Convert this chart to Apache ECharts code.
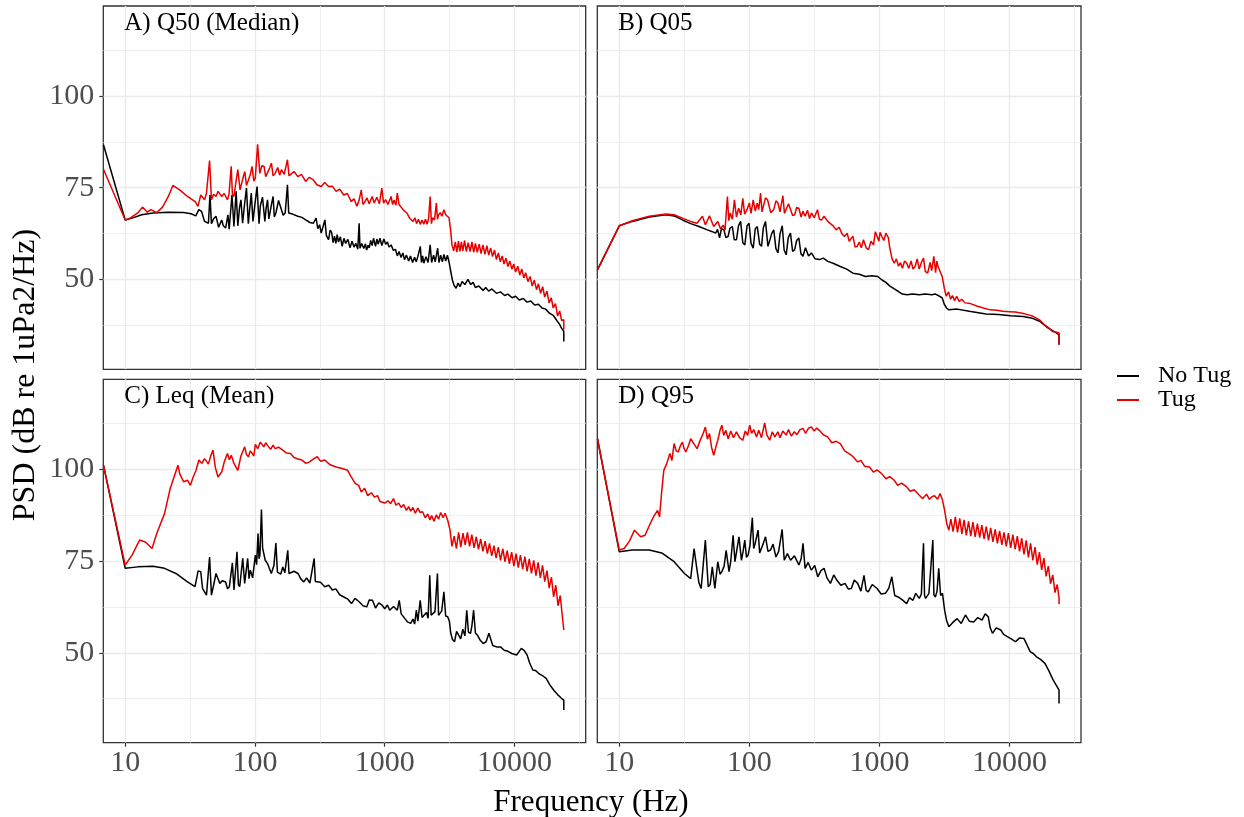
<!DOCTYPE html>
<html><head><meta charset="utf-8">
<script src="https://cdn.jsdelivr.net/npm/echarts@6/dist/echarts.min.js"></script>
<style>html,body{margin:0;padding:0;background:#fff}#c{width:1244px;height:817px}</style>
</head><body><div id="c"></div>
<script>
const panelTitles = ['A) Q50 (Median)', 'B) Q05', 'C) Leq (Mean)', 'D) Q95'];
const seriesNames = ['No Tug', 'Tug'];
const xTickLabels = [10, 100, 1000, 10000];
const xMinorBreaks = [31.62, 316.2, 3162, 31623];
const yTickLabels = [50, 75, 100];
const yMinorBreaks = [37.5, 62.5, 87.5, 112.5];
const xRange = [6.78, 35400];
const yRange = [25.5, 124.5];

const q50NoTug = [[6.8,86.7],[10,66.2],[11.3,66.7],[13.4,67.6],[16.4,68.1],[21.5,68.3],[28.2,68.2],[32.2,67.9],[35,67.3],[36.9,69.0],[38.8,68.5],[40.9,65.8],[43.8,65.3],[45,73.0],[46.2,65.2],[48,66.5],[50.1,67.2],[52.5,64.2],[55.4,66.2],[57,64.6],[59.4,64.0],[61.9,67.6],[63.3,63.7],[66.5,73.0],[68.9,64.4],[71.6,74.0],[73.8,64.6],[76,69.5],[78,71.7],[80.3,65.3],[83,70.2],[86,74.9],[88.9,65.2],[91,69.0],[93.7,73.5],[96.5,65.8],[100,70.5],[103.8,75.3],[107.5,65.2],[110,70.0],[114.3,72.4],[119.2,65.8],[122,69.5],[125,71.7],[128,66.5],[132,66.2],[135,71.0],[138,72.6],[141,67.0],[145,68.1],[152,71.5],[160,69.0],[165,67.5],[171,68.1],[178,75.8],[182,68.1],[195,67.8],[214,67.2],[230,66.9],[246,66.2],[265,65.5],[282,65.3],[296,66.7],[305,63.8],[315,64.9],[324,62.6],[335,64.4],[346,66.2],[355,62.0],[369,60.8],[380,63.4],[390,62.8],[400,60.0],[410,61.8],[420,59.8],[430,62.2],[440,60.2],[455,61.6],[470,59.0],[485,61.2],[500,59.8],[520,60.9],[540,58.6],[560,60.4],[580,58.8],[600,59.8],[620,58.2],[635,65.3],[645,58.5],[665,59.8],[690,58.4],[710,59.7],[725,58.0],[745,59.3],[760,58.6],[780,60.6],[800,59.2],[820,61.2],[850,59.0],[870,61.0],[890,59.6],[920,61.2],[950,59.2],[985,61.0],[1018,59.6],[1050,60.2],[1080,58.8],[1120,59.4],[1166,57.9],[1210,58.2],[1250,56.4],[1290,57.6],[1334,56.0],[1380,57.2],[1420,55.4],[1470,56.6],[1530,55.0],[1580,56.4],[1640,54.6],[1700,56.0],[1750,54.8],[1800,56.2],[1880,59.0],[1920,54.6],[1960,56.4],[2000,54.4],[2080,56.2],[2160,54.6],[2240,59.4],[2300,54.6],[2380,56.6],[2450,54.8],[2560,58.5],[2620,54.6],[2700,56.6],[2780,54.8],[2860,56.8],[2950,55.0],[3040,56.6],[3130,54.8],[3220,54.4],[3320,49.9],[3420,48.4],[3550,47.6],[3680,49.0],[3800,48.0],[3950,49.4],[4150,48.6],[4380,50.0],[4600,48.6],[4800,49.2],[5000,47.8],[5300,48.2],[5730,47.0],[6000,47.8],[6330,46.8],[6700,47.4],[7260,46.2],[7800,46.6],[8400,45.6],[8900,46.0],[9600,45.0],[10200,45.4],[10900,44.4],[11700,44.8],[12500,43.8],[13350,44.1],[14300,43.0],[15300,43.2],[16300,42.2],[17400,41.9],[18600,40.8],[20000,40.1],[21200,38.8],[22200,37.8],[23000,36.8],[24000,35.8],[24000,33.1]];
const q50Tug = [[6.8,80.0],[10,66.2],[10.9,66.7],[12.5,68.1],[13.6,69.7],[14.8,68.3],[15.8,69.0],[17.5,68.2],[19.4,69.7],[21.5,72.6],[23.3,75.6],[26.3,74.4],[30.2,72.6],[34.6,71.2],[36.4,69.9],[38.2,73.0],[40.9,71.7],[42.3,73.5],[44.7,82.4],[46.2,71.7],[48,73.2],[50.1,72.6],[52,74.0],[55.4,72.6],[58,73.4],[61.3,71.7],[63,73.0],[65.6,80.8],[67,73.2],[68.9,72.6],[71,76.0],[73.8,79.9],[76.8,74.4],[80,77.0],[83.5,79.4],[86,75.6],[88.9,75.3],[92,78.5],[95,80.8],[98,76.8],[100.6,77.6],[104.8,86.8],[109,78.9],[113,81.0],[117.5,80.8],[121,78.0],[125,78.5],[130,80.4],[134,81.7],[138,78.2],[143,78.9],[150,80.5],[155,78.4],[160,79.9],[168,78.6],[178,82.6],[183,78.2],[188,78.5],[200,79.4],[214,78.0],[228,78.6],[246,76.7],[262,77.8],[282,77.1],[300,75.8],[324,75.3],[345,76.4],[369,75.3],[395,75.4],[422,74.0],[450,74.6],[483,73.0],[515,73.4],[553,71.2],[580,72.0],[610,69.9],[635,71.6],[660,74.4],[680,70.4],[700,71.0],[730,72.2],[760,70.6],[800,72.6],[830,70.8],[870,72.4],[910,70.6],[950,74.9],[980,70.8],[1018,71.7],[1060,70.4],[1120,72.6],[1150,70.4],[1180,71.6],[1220,70.2],[1250,73.5],[1290,70.4],[1334,70.8],[1400,68.8],[1480,68.1],[1560,66.6],[1655,65.8],[1710,66.8],[1760,65.2],[1820,66.4],[1880,65.0],[1940,66.2],[2000,65.0],[2060,66.4],[2120,65.0],[2180,66.6],[2240,72.6],[2290,65.2],[2340,66.8],[2420,66.2],[2500,70.8],[2550,66.4],[2600,67.6],[2680,68.2],[2760,67.2],[2860,69.0],[2950,67.6],[3040,68.0],[3130,66.8],[3220,63.5],[3300,59.4],[3400,57.8],[3500,60.2],[3600,57.4],[3700,60.4],[3800,57.6],[3900,60.2],[4000,57.8],[4130,60.6],[4250,57.6],[4400,60.0],[4550,57.6],[4700,60.2],[4850,57.4],[5000,59.8],[5170,57.4],[5350,59.6],[5530,57.0],[5720,59.4],[5920,56.8],[6130,59.2],[6330,56.6],[6550,58.6],[6780,56.2],[7020,58.0],[7260,55.4],[7520,57.2],[7780,54.8],[8050,56.4],[8300,54.2],[8600,55.8],[8900,53.5],[9200,55.0],[9550,52.8],[9880,54.2],[10200,52.0],[10600,53.6],[11000,51.2],[11400,52.8],[11800,50.4],[12200,51.8],[12700,49.4],[13200,50.8],[13700,48.2],[14200,49.8],[14800,47.2],[15300,48.8],[15900,46.2],[16500,48.0],[17100,45.2],[17800,46.8],[18500,43.6],[19200,45.0],[19900,42.2],[20700,43.4],[21500,40.0],[22300,41.4],[23100,38.8],[24000,39.0],[24000,36.3]];

const q05NoTug = [[6.8,52.6],[10,64.6],[12.6,65.8],[17,67.0],[22.8,67.6],[26.4,67.3],[30.6,66.2],[35.4,65.2],[41,64.4],[47.5,63.5],[52,63.0],[55,62.6],[57,63.6],[59,61.3],[61,63.8],[63.8,63.5],[66,61.4],[68.6,61.7],[71,64.0],[74,64.4],[76.5,60.8],[79.6,60.8],[82.5,64.6],[85.7,65.8],[89,60.0],[92.3,59.4],[96,64.6],[99.5,65.3],[103,59.8],[107,58.5],[111,63.8],[115,64.4],[120,59.6],[124,59.0],[128,64.0],[133,65.8],[139,59.0],[144,58.5],[149,62.6],[154,63.5],[160,58.4],[166,57.2],[172,62.4],[179,64.6],[185,58.0],[192,56.7],[199,61.4],[207,62.6],[215,57.6],[223,58.1],[231,60.6],[240,61.3],[249,57.0],[258,56.3],[270,58.6],[285,56.4],[300,57.2],[320,55.6],[346,55.4],[370,55.8],[401,54.9],[440,54.4],[500,53.5],[560,52.8],[625,51.7],[700,51.4],[780,50.8],[870,51.0],[970,50.8],[1040,49.9],[1120,49.2],[1210,48.1],[1300,47.4],[1400,46.7],[1500,46.0],[1630,45.8],[1800,46.0],[2020,45.8],[2250,46.0],[2520,45.8],[2700,46.0],[2900,45.4],[3030,45.0],[3160,43.1],[3280,42.2],[3410,41.7],[3960,41.9],[4900,41.3],[6600,40.6],[8200,40.4],[10200,40.1],[12700,39.9],[14700,39.5],[17000,38.6],[19700,36.8],[22900,35.4],[24000,34.9],[24000,32.2]];
const q05Tug = [[6.8,52.6],[10,64.6],[12.6,66.0],[17,67.2],[22.8,67.8],[26.4,67.6],[30.6,66.7],[35.4,65.8],[39.6,65.3],[43.6,67.2],[45.9,64.9],[49.4,67.3],[53.2,64.4],[57.2,65.8],[60,63.8],[62.9,64.8],[65,63.4],[67.8,72.6],[69.5,66.0],[71.3,68.1],[74,66.4],[76.8,71.7],[79.5,67.0],[82.7,69.4],[86,67.6],[89,72.1],[92,67.8],[95.9,69.0],[100,70.8],[103,68.0],[107,71.7],[111,68.6],[115,70.8],[118,69.0],[122,73.5],[125,68.4],[128,69.9],[133,72.2],[138,71.7],[146,68.2],[154,69.0],[160,71.4],[166,70.8],[172,68.4],[181,72.8],[186,68.0],[192,68.1],[200,70.6],[207,70.3],[215,67.4],[223,67.6],[231,69.6],[240,69.4],[250,67.0],[258,68.6],[268,67.2],[280,68.8],[290,66.6],[300,68.1],[315,66.8],[334,69.0],[345,66.4],[359,66.2],[375,67.2],[401,65.8],[420,65.2],[440,64.6],[465,63.5],[490,64.2],[515,62.4],[539,61.7],[565,62.6],[585,60.4],[603,59.9],[625,61.8],[650,58.8],[674,59.0],[700,60.2],[725,58.6],[753,60.8],[790,58.6],[825,58.1],[860,60.4],[900,59.4],[930,63.0],[958,63.5],[990,60.4],[1010,62.8],[1043,61.7],[1080,60.6],[1120,62.6],[1170,61.4],[1200,58.6],[1250,55.6],[1298,54.4],[1350,55.6],[1400,53.6],[1450,54.6],[1500,53.0],[1560,55.0],[1621,54.4],[1680,53.0],[1750,55.0],[1810,52.8],[1880,53.5],[1950,55.6],[2020,52.8],[2100,54.6],[2180,55.8],[2250,52.2],[2346,51.7],[2450,54.6],[2520,52.4],[2618,56.3],[2700,51.8],[2760,55.0],[2818,53.5],[2920,52.2],[3032,50.8],[3150,47.6],[3264,45.4],[3400,46.6],[3520,44.6],[3640,45.6],[3780,44.2],[3920,45.4],[4100,44.0],[4300,44.6],[4540,43.6],[5000,43.4],[5670,42.7],[6300,42.2],[7080,41.7],[8000,41.6],[8850,41.3],[10000,41.2],[11050,41.1],[12500,40.8],[13800,40.4],[15000,40.0],[15950,39.5],[17200,38.8],[18460,37.7],[20000,36.8],[21350,35.8],[23000,35.6],[24000,35.4],[24000,32.2]];

const leqNoTug = [[6.8,101.1],[10,73.0],[12.5,73.4],[16.4,73.6],[20.1,73.0],[24.6,71.6],[30.2,69.3],[34.5,68.0],[36.5,72.3],[38.2,72.1],[39.5,67.5],[42.3,65.7],[44.7,76.1],[46.2,65.7],[48,68.4],[50.1,71.6],[53.6,68.9],[56,69.6],[59.4,69.3],[61.5,67.4],[63.5,68.0],[67,74.5],[68.9,67.1],[72.7,77.5],[74.5,68.6],[76.3,68.0],[80.5,75.7],[83.3,68.9],[87.9,75.7],[90,70.2],[92.2,72.5],[96,70.4],[100.7,76.6],[103,74.0],[105.6,82.5],[107.5,75.6],[109.2,76.6],[112.2,89.0],[114.5,78.6],[116.9,78.9],[120,75.2],[125,74.3],[129,73.0],[133.7,71.6],[140,73.8],[145,79.9],[149,72.0],[153,72.5],[158,71.4],[164,73.4],[170,71.8],[179,77.9],[183,71.6],[188,71.1],[200,72.2],[215,71.6],[225,70.2],[238,69.3],[250,70.4],[265,69.0],[286,75.7],[292,69.4],[298,68.9],[320,69.2],[345,68.0],[370,68.4],[395,67.1],[420,67.4],[450,65.8],[484,65.2],[520,64.6],[555,63.4],[590,64.8],[635,63.9],[680,62.8],[727,62.5],[760,64.4],[805,64.3],[850,62.2],[900,63.6],[953,63.0],[1000,62.0],[1050,63.0],[1092,61.6],[1170,62.6],[1250,61.6],[1294,64.3],[1340,60.6],[1432,59.3],[1500,58.4],[1585,58.0],[1650,59.2],[1700,57.8],[1754,61.6],[1800,58.6],[1878,64.3],[1940,59.6],[2009,59.8],[2100,61.0],[2160,59.4],[2224,71.1],[2280,60.2],[2333,59.8],[2440,61.2],[2549,71.6],[2600,60.2],[2636,59.8],[2750,61.4],[2859,66.6],[2950,60.0],[3058,59.8],[3150,58.6],[3228,55.3],[3330,53.6],[3453,53.0],[3580,55.8],[3697,55.3],[3850,53.8],[4000,56.4],[4150,54.6],[4289,61.6],[4420,55.6],[4590,55.3],[4700,57.4],[4844,61.6],[5000,55.4],[5185,54.8],[5450,53.4],[5740,52.5],[6050,53.0],[6353,55.3],[6800,52.0],[7275,51.6],[7800,51.6],[8334,50.7],[8900,50.4],[9537,49.8],[10400,49.4],[11300,51.2],[11900,50.6],[12510,49.4],[13100,47.2],[13840,45.3],[14500,45.2],[15320,44.4],[16400,43.8],[17540,43.0],[18800,41.2],[20090,39.8],[21500,38.6],[23010,37.6],[24000,37.1],[24000,34.4]];
const leqTug = [[6.8,101.1],[10,73.9],[11.3,76.6],[12.9,80.7],[14.3,80.2],[16.1,78.4],[17.5,82.5],[20.1,87.9],[22.2,94.7],[23.8,97.9],[25.5,101.1],[26.3,98.8],[28.2,96.6],[30.2,97.0],[31.8,95.6],[33.4,97.9],[35,99.5],[37,102.5],[39,101.6],[40.9,102.9],[43.8,101.4],[45.5,103.5],[47.5,105.2],[49.5,100.5],[51.9,97.9],[55.5,99.3],[58,102.0],[61.4,104.3],[63.5,102.6],[65.7,103.8],[69,101.5],[73.8,99.7],[78,103.6],[83.3,106.1],[86,104.0],[89.1,103.4],[92,105.0],[95.3,104.3],[98,103.6],[100.7,106.8],[105,105.6],[110,107.4],[116.9,106.1],[121,107.2],[125,106.5],[132,105.4],[138,106.6],[143,105.6],[152,106.0],[164,105.2],[175,104.4],[188,104.3],[200,103.2],[215,102.8],[230,102.5],[247,101.6],[264,102.0],[283,102.8],[302,103.4],[320,102.2],[345,102.5],[380,101.2],[423,100.6],[470,100.2],[518,99.7],[550,98.0],[594,96.1],[630,95.6],[660,93.8],[700,94.8],[740,92.8],[790,93.6],[833,92.4],[880,92.8],[920,91.2],[953,91.6],[1000,90.8],[1060,91.4],[1110,90.6],[1169,92.0],[1220,90.2],[1280,90.8],[1338,89.6],[1400,90.4],[1470,88.8],[1530,89.8],[1585,88.6],[1650,89.6],[1720,88.0],[1800,89.4],[1878,88.2],[1960,88.4],[2050,86.8],[2150,87.8],[2230,86.2],[2300,87.4],[2400,85.8],[2500,87.6],[2600,86.4],[2700,88.2],[2818,86.8],[2920,88.0],[3058,86.1],[3180,83.6],[3300,79.0],[3430,81.8],[3570,78.4],[3710,82.8],[3860,78.8],[4010,82.6],[4170,79.4],[4340,82.8],[4510,79.0],[4690,82.2],[4880,78.6],[5080,81.6],[5280,78.2],[5490,81.0],[5710,77.6],[5940,80.4],[6180,77.0],[6420,79.8],[6680,76.4],[6950,79.2],[7220,75.8],[7510,78.8],[7810,75.2],[8130,78.4],[8450,74.8],[8790,77.8],[9140,74.2],[9510,77.4],[9890,73.6],[10290,77.0],[10700,73.2],[11120,76.6],[11570,72.8],[12030,76.2],[12510,72.2],[13010,75.6],[13530,71.6],[14070,75.2],[14640,71.0],[15220,74.6],[15830,70.4],[16460,73.8],[17120,69.4],[17810,72.4],[18520,67.6],[19260,70.6],[20030,65.2],[20830,68.4],[21660,62.8],[22530,65.6],[23430,59.6],[24000,59.8],[24000,56.2]];

const q95NoTug = [[6.8,108.3],[10,77.5],[12.6,78.0],[17,78.0],[21.2,77.2],[26.4,74.8],[31.7,71.6],[35.4,70.2],[37.6,78.4],[39.6,72.5],[41,69.0],[42.6,67.5],[45.9,80.7],[48.3,68.0],[50,68.6],[51.9,73.4],[54.3,67.5],[57.2,74.8],[59.5,71.4],[61.5,72.1],[64,73.6],[66.3,77.9],[69.8,72.1],[72,75.0],[75,82.0],[77.5,74.8],[79.6,74.3],[83.2,81.6],[86.9,75.2],[89.5,77.6],[92.2,80.7],[95,76.0],[97.8,76.6],[101,79.2],[105.4,86.8],[108,78.4],[110.9,79.8],[116.6,83.4],[120,77.2],[123.6,77.5],[128,79.8],[133.1,81.6],[139,77.6],[145.5,78.0],[152,79.6],[160.1,76.1],[168,77.6],[178.6,83.6],[185.4,75.2],[196,77.0],[207.4,75.2],[222,76.4],[240.2,73.9],[250,75.6],[258.5,79.8],[268.1,73.0],[283,74.6],[299.9,72.5],[318,73.8],[335.5,70.7],[355,72.4],[375.3,73.0],[395,70.4],[419.8,68.9],[445,71.2],[469.6,69.8],[505,68.4],[543.4,68.9],[575,67.4],[607.9,67.5],[640,69.8],[680,68.9],[720,66.8],[760.7,71.1],[790,67.0],[820,66.6],[880,68.6],[958,67.5],[1030,66.0],[1112,66.2],[1180,67.6],[1244,70.7],[1310,65.6],[1392,65.2],[1500,64.4],[1617,63.4],[1700,65.0],[1809,64.3],[1900,66.2],[2023,64.8],[2100,66.0],[2180,79.8],[2220,65.6],[2263,64.8],[2400,66.2],[2571,80.7],[2620,65.8],[2690,65.2],[2770,66.8],[2855,73.0],[2950,65.6],[3050,66.2],[3168,61.6],[3280,58.8],[3413,57.1],[3650,58.2],[3953,59.3],[4250,58.0],[4577,60.3],[4900,58.6],[5300,58.4],[5700,59.6],[6136,58.9],[6500,60.6],[6861,59.8],[7100,56.8],[7390,55.3],[7900,56.8],[8560,56.2],[9000,55.0],[9600,54.4],[10300,53.8],[11100,53.0],[11900,54.0],[12880,53.9],[13600,52.2],[14400,50.3],[15200,49.8],[16100,48.9],[17300,48.2],[18700,47.1],[20100,45.0],[21600,42.6],[23000,41.0],[24000,39.8],[24000,36.2]];
const q95Tug = [[6.8,108.3],[10,78.0],[10.9,78.4],[12,80.5],[13.1,83.4],[14.6,81.6],[15.8,82.0],[17,84.6],[18.3,87.0],[19.7,88.8],[20.4,87.0],[21.2,94.0],[22,99.7],[23.2,101.6],[24.5,104.3],[25.4,102.4],[26.4,107.0],[27.4,105.0],[28.4,104.7],[29.5,106.4],[30.6,107.4],[31.5,105.6],[32.5,104.7],[34,106.4],[35.4,108.3],[37.4,107.0],[39.6,105.6],[42,108.0],[44,109.6],[45.9,111.5],[47.6,108.2],[49.4,109.7],[51.2,106.0],[53.2,103.8],[55.2,106.0],[57.2,107.9],[59.5,110.6],[61.5,112.0],[63.5,109.2],[66,110.6],[68.7,108.3],[72,110.4],[75.5,108.6],[79.6,110.2],[84,108.6],[89,107.9],[93,110.4],[97,109.2],[100.6,112.0],[104,109.8],[108,110.8],[113.5,108.8],[118,110.6],[124,108.6],[131.1,112.6],[136,109.4],[143.3,107.9],[150,110.2],[157,108.8],[165.6,110.2],[172,108.6],[181,110.4],[191.6,109.3],[200,110.8],[210,109.0],[221.5,110.2],[232,109.4],[245,110.8],[258.5,111.1],[270,109.8],[285,111.2],[299.9,111.5],[315,110.4],[330,111.2],[344.9,110.6],[370,109.4],[399.8,108.8],[430,107.2],[465,107.6],[500,107.0],[540,105.0],[579,104.3],[620,103.6],[680,102.0],[720,102.4],[770,100.8],[838,100.6],[900,99.2],[960,99.8],[1040,98.8],[1120,97.4],[1200,98.0],[1298,97.0],[1380,95.6],[1480,96.2],[1617,95.2],[1720,94.0],[1850,94.4],[2023,92.9],[2150,92.0],[2300,93.2],[2420,91.8],[2529,92.5],[2650,92.8],[2800,91.8],[2920,93.4],[3050,91.6],[3168,88.8],[3300,85.0],[3413,83.4],[3540,86.4],[3680,83.0],[3830,87.0],[3980,82.8],[4140,86.6],[4300,82.4],[4470,86.2],[4650,82.0],[4840,85.8],[5030,81.8],[5230,85.6],[5440,81.6],[5660,85.2],[5890,81.4],[6120,84.8],[6370,81.0],[6620,84.4],[6890,80.6],[7160,84.0],[7450,80.2],[7750,83.6],[8060,79.8],[8380,83.2],[8720,79.4],[9060,82.8],[9430,79.0],[9800,82.6],[10200,78.6],[10600,82.2],[11030,78.2],[11470,81.8],[11930,77.6],[12400,81.2],[12900,76.8],[13420,80.6],[13950,76.0],[14510,79.8],[15090,75.2],[15690,78.8],[16320,74.0],[16970,77.4],[17650,72.6],[18360,75.8],[19090,70.8],[19860,73.6],[20650,68.8],[21480,71.2],[22340,66.4],[23230,68.6],[24000,65.0],[24000,63.2]];

const panelData = [[q50NoTug, q50Tug], [q05NoTug, q05Tug], [leqNoTug, leqTug], [q95NoTug, q95Tug]];
const seriesColors = ['#000000', '#E60000'];

const FONT = '"Liberation Serif", "Times New Roman", serif';
const grids = [
  {left: 103.3, top: 6, width: 482.4, height: 363.3},
  {left: 597.3, top: 6, width: 483.7, height: 363.3},
  {left: 103.3, top: 379.3, width: 482.4, height: 363.4},
  {left: 597.3, top: 379.3, width: 483.7, height: 363.4}
];
const gridLine = '#EBEBEB';
const option = {animation: false, backgroundColor: '#ffffff', grid: [], xAxis: [], yAxis: [], series: [], graphic: []};
grids.forEach((g, i) => {
  option.grid.push(Object.assign({show: true, borderColor: '#333333', borderWidth: 1.3, backgroundColor: 'transparent', containLabel: false}, g));
  const showX = i >= 2, showY = i % 2 === 0;
  option.xAxis.push({
    gridIndex: i, type: 'log', logBase: 10, min: xRange[0], max: xRange[1],
    axisLine: {show: false},
    axisTick: {show: showX, length: 4, customValues: xTickLabels, lineStyle: {color: '#333333', width: 1.2}},
    axisLabel: {show: showX, customValues: xTickLabels, fontFamily: FONT, fontSize: 30, color: '#4D4D4D', margin: 5,
      formatter: v => String(Math.round(v))},
    splitLine: {show: true, lineStyle: {color: gridLine, width: 1.4}},
    minorTick: {show: false}, minorSplitLine: {show: false}
  });
  option.xAxis.push({
    gridIndex: i, type: 'log', logBase: 10, min: xRange[0], max: xRange[1],
    axisLine: {show: false}, axisTick: {show: false, customValues: xMinorBreaks},
    axisLabel: {show: false}, splitLine: {show: true, lineStyle: {color: gridLine, width: 0.8}}
  });
  option.yAxis.push({
    gridIndex: i, type: 'value', min: yRange[0], max: yRange[1],
    axisLine: {show: false},
    axisTick: {show: showY, length: 4, customValues: yTickLabels, lineStyle: {color: '#333333', width: 1.2}},
    axisLabel: {show: showY, customValues: yTickLabels, fontFamily: FONT, fontSize: 30, color: '#4D4D4D', margin: 9},
    splitLine: {show: true, lineStyle: {color: gridLine, width: 1.4}}
  });
  option.yAxis.push({
    gridIndex: i, type: 'value', min: yRange[0], max: yRange[1],
    axisLine: {show: false}, axisTick: {show: false, customValues: yMinorBreaks},
    axisLabel: {show: false}, splitLine: {show: true, lineStyle: {color: gridLine, width: 0.8}}
  });
  panelData[i].forEach((d, k) => {
    option.series.push({
      name: seriesNames[k], type: 'line', xAxisIndex: 2 * i, yAxisIndex: 2 * i,
      data: d, showSymbol: false, symbol: 'none', clip: true,
      color: seriesColors[k], lineStyle: {color: seriesColors[k], width: 1.5}, z: 3 + k
    });
  });
  option.graphic.push({type: 'text', x: g.left + 21, y: g.top + 17.5, z: 10,
    style: {text: panelTitles[i], font: '25px ' + FONT, fill: '#000', align: 'left', verticalAlign: 'middle'}});
});
option.graphic.push({type: 'text', x: 591, y: 803, style: {text: 'Frequency (Hz)', font: '31px ' + FONT, fill: '#000', align: 'center', verticalAlign: 'middle'}});
option.graphic.push({type: 'text', x: 26, y: 375, rotation: Math.PI / 2, style: {text: 'PSD (dB re 1uPa2/Hz)', font: '32px ' + FONT, fill: '#000', align: 'center', verticalAlign: 'middle'}});
option.legend = {
  orient: 'vertical', left: 1112, top: 359, icon: 'rect', itemWidth: 22, itemHeight: 2, itemGap: 0,
  data: seriesNames, selectedMode: false,
  textStyle: {fontFamily: FONT, fontSize: 24, color: '#000', lineHeight: 24, padding: [0, 0, 0, 14]}
};
const chart = echarts.init(document.getElementById('c'), null, {renderer: 'canvas'});
chart.setOption(option);
</script></body></html>
